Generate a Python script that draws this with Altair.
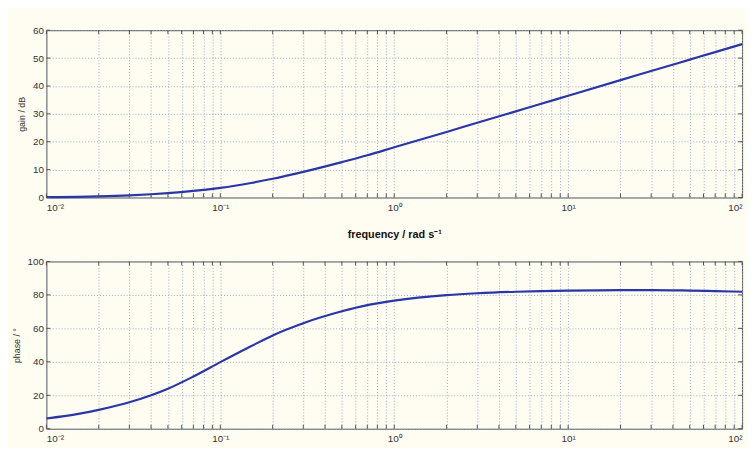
import altair as alt
import pandas as pd

# ---- data ----
freq = [0.01, 0.015, 0.02, 0.03, 0.04, 0.05, 0.07, 0.1, 0.15, 0.2, 0.3, 0.5, 0.7,
        1, 2, 3, 5, 7, 10, 20, 30, 50, 70, 100]
gain_db = [0.12, 0.25, 0.4, 0.75, 1.15, 1.55, 2.35, 3.45, 5.2, 6.7, 9.2, 12.7, 15.15,
           18.0, 23.5, 26.8, 30.9, 33.6, 36.5, 42.1, 45.35, 49.45, 52.15, 55.0]
phase_deg = [6.1, 8.7, 11.3, 15.8, 20.0, 23.9, 31.2, 39.8, 49.3, 55.8, 63.1, 70.2, 73.9,
             76.6, 79.9, 81.0, 81.9, 82.3, 82.6, 82.9, 82.9, 82.6, 82.3, 81.9]

major_ticks = [0.01, 0.1, 1, 10, 100]
major_labels = ["10⁻²", "10⁻¹", "10⁰", "10¹", "10²"]
minor_mult = [2, 3, 4, 5, 6, 7, 8, 9]
gain_ticks = [0, 10, 20, 30, 40, 50, 60]
phase_ticks = [0, 20, 40, 60, 80, 100]

W, H = 707, 170
BG = "#fffdf2"
LINE = "#2a36a6"
GRID = "#93acc4"
FRAME = "#505050"
TXT = "#333333"

x_ticks = sorted(set(major_ticks + [m * d for d in major_ticks[:-1] for m in minor_mult]))
label_expr = "".join(f"datum.value == {v} ? '{l}' : " for v, l in zip(major_ticks, major_labels)) + "''"

df = pd.DataFrame({"freq": freq, "gain": gain_db, "phase": phase_deg})
xt_df = pd.DataFrame({"freq": x_ticks})


def panel(field, yticks, ytitle, xtitle):
    xscale = alt.Scale(type="log", domain=[0.01, 100])
    yscale = alt.Scale(domain=[yticks[0], yticks[-1]], nice=False)
    xaxis_kw = dict(values=x_ticks, labelExpr=label_expr, grid=True, gridDash=[1, 2],
                    gridColor=GRID, gridOpacity=1, ticks=False, domain=False,
                    labelOverlap=False, labelFontSize=10, labelColor=TXT, labelPadding=5,
                    labelFont="Liberation Sans", labelFlush=True)
    if xtitle:
        xaxis = alt.Axis(title=xtitle, titleFontWeight="bold", titleFontSize=11,
                         titleColor="#111111", titlePadding=17, titleFont="Liberation Sans",
                         **xaxis_kw)
    else:
        xaxis = alt.Axis(title=None, **xaxis_kw)
    yaxis = alt.Axis(title=ytitle, values=yticks, grid=True, gridDash=[1, 2], gridColor=GRID,
                     gridOpacity=1, ticks=False, domain=False, labelFontSize=10,
                     labelColor=TXT, labelPadding=3, titleFontSize=9, titleColor=TXT,
                     titleFontWeight="normal", titleFont="Liberation Sans",
                     labelFont="Liberation Sans", titlePadding=6)
    yt_df = pd.DataFrame({field: yticks})
    xenc = alt.X("freq:Q", scale=xscale, axis=xaxis)
    yenc = alt.Y(f"{field}:Q", scale=yscale, axis=yaxis)
    line = alt.Chart(df).mark_line(color=LINE, strokeWidth=2.2, interpolate="monotone").encode(
        x=xenc, y=yenc)
    tb = alt.Chart(xt_df).mark_rule(color=FRAME, strokeWidth=1).encode(
        x=xenc, y=alt.value(H), y2=alt.value(H - 4))
    tt = alt.Chart(xt_df).mark_rule(color=FRAME, strokeWidth=1).encode(
        x=xenc, y=alt.value(0), y2=alt.value(4))
    tl = alt.Chart(yt_df).mark_rule(color=FRAME, strokeWidth=1).encode(
        y=yenc, x=alt.value(0), x2=alt.value(4))
    tr = alt.Chart(yt_df).mark_rule(color=FRAME, strokeWidth=1).encode(
        y=yenc, x=alt.value(W), x2=alt.value(W - 4))
    return alt.layer(line, tb, tt, tl, tr).properties(width=W, height=H)


top = panel("gain", gain_ticks, "gain / dB", "frequency / rad s⁻¹")
bottom = panel("phase", phase_ticks, "phase / °", None)

chart = alt.vconcat(top, bottom, spacing=15).properties(
    background=BG,
    padding={"left": 3, "top": 13, "right": 1, "bottom": 0},
).configure_view(stroke=FRAME, strokeWidth=1, fill=BG)

chart.save("out.html", embed_options={"renderer": "svg", "actions": False})
